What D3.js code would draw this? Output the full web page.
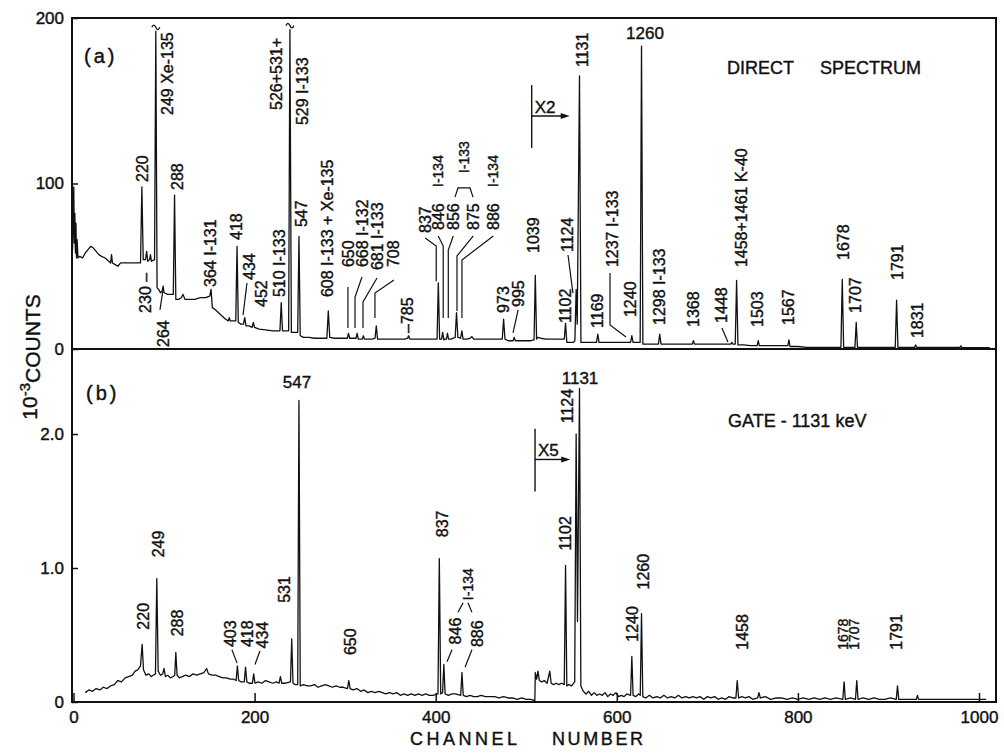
<!DOCTYPE html>
<html>
<head>
<meta charset="utf-8">
<script src="https://cdn.jsdelivr.net/npm/d3@7"></script>
<style>
  body { margin: 0; background: #fff; }
  svg { display: block; font-family: "Liberation Sans", Arial, sans-serif; }
  text { fill: #111; stroke: #111; stroke-width: 0.4px; }
</style>
</head>
<body>
<svg id="chart" width="1004" height="753"></svg>
<script>
var width = 1004,
    height = 753;

/* ---- Data ---- */

// x axis ticks (channel number)
var xTicks = [0, 200, 400, 600, 800, 1000];
var yTicksA = [0, 100, 200];
var yTicksB = [0, 1, 2];

// (a) direct spectrum: background trace [channel, 10^-3 counts]
var backgroundA = [
  [-1,60],[0.3,98],[0.9,64],[1.5,82],[2.1,58],[2.7,76],[3.3,55],[4,66],[5,55],[7,56],[10,55],[13,58],
  [16,60],[19,62],[22,61],[25,59],[28,57],[31,56],[35,55],[39,53],[41,52],[42,57],[43,52],[46,51],
  [49,50],[52,52],[58,52],[64,52],[70,52],[74,52],[77,54],[79.5,54],[82,53],[84,54],[85,57],[86,53],
  [89.5,54],[92.3,37],[94,36],[96,34],[98,35],[100,34],[104,33],[108,33],[110.2,33],[113,30],[116,30],
  [119,31],[121,33],[123,30],[128,30],[134,30],[140,31],[146,31],[150.5,32],[153.3,25],[156,24],
  [160,22],[164,20],[168,18],[171,17],[172,19],[173,17],[176,17],[179.2,17],[182,16],[185,15],
  [187.7,15],[190.5,14],[194,14],[197.2,13],[200,13],[205,12],[212,11.5],[220,11],[228,11],[230.8,11],
  [234,11],[237.6,11],[240.6,10],[244,10],[247.6,10],[250.4,8],[254,7],[260,7],[266,6.5],[272,6.5],
  [279.8,6.5],[283,7],[288,6.5],[294,6.5],[300,6.5],[302.4,6.5],[305,6.5],[309,6.5],[312,6.5],
  [314.5,6],[317,6],[319,6],[321.3,6],[326,6],[330,6],[333,6.5],[335.8,6],[342,6],[350,6],[358,6],
  [366,6],[369,6.5],[371.5,6],[378,6],[386,6],[394,6],[401.5,6],[404.3,6],[406.5,6],[409,5.5],
  [410.5,6],[411.8,6],[414.2,6],[417,6],[421.5,7],[424.5,7],[427.5,6.5],[430.2,6],[434,6],[438,6.5],
  [440,7.5],[442,6],[450,6],[460,6],[468,6],[473.5,6],[476.5,6],[480,5],[485.5,5],[488,5],[494,5],
  [500,5],[505,5],[508.6,5.5],[511.4,6],[513,7],[516,6.5],[522,6],[530,6],[537,6],[542,6],[544.8,4],
  [548,4],[552,4],[553.7,5],[556.3,15],[560.4,4],[565,4],[572,4],[577.6,4],[580.4,4],[588,4],[596,4],
  [604,4],[610,4],[613,4],[615.2,4],[618,4],[622,4],[625.8,4],[628.8,3],[634,3],[640,3],[646,3],
  [648.8,3],[656,3],[664,3],[672,3],[680,3],[683.4,3],[685.8,3],[694,3],[702,3],[710,3],[718,3],
  [726,3],[728,3],[730.8,3],[733.8,2.5],[740,2.5],[748,2],[755,2],[757.4,2],[766,2],[774,2],[782,2],
  [789,2],[791.3,1.5],[800,1.5],[810,1],[820,1],[830,1],[840,1],[847.5,1],[850.5,1],[856,1],[863,1],
  [865.8,1],[875,1],[885,1],[895,1],[907.5,1],[910.5,1],[920,1],[929,1],[931,1],[945,1],[960,1],
  [970,1],[979,1],[981,0.8],[995,0.8],[1012,0.8]
];

// (a) peak tips [channel, 10^-3 counts]
var peaksA = [
  [75.5,98],[80.8,59],[90.9,192],[99,38],[111.6,93],[151.9,36],[180.6,62],[189.1,19],[198.6,16],
  [229.4,28],[239,193],[249,68],[281.4,23],[303.7,9.5],[313.2,9.5],[320.1,8],[334.4,14],[370,8],
  [402.9,40],[407.7,10],[413,9.5],[423,22],[428.9,11],[475,18],[486.7,7],[510,44.5],[543.4,15.5],
  [555.1,36],[558.8,165],[579,9],[616.6,8],[627.3,183],[647.4,9],[684.6,5],[727,4],[732.3,41.5],
  [756.2,5],[790.1,5.5],[849,42],[864.4,16],[909,29.5],[930,2.5],[980,2]
];

// (b) gate 1131 keV: background trace [channel, 10^-3 counts]
var backgroundB = [
  [13,0.07],[17,0.09],[21,0.08],[25,0.1],[29,0.09],[33,0.11],[37,0.1],[41,0.12],[45,0.13],[49,0.16],
  [53,0.15],[57,0.18],[61,0.19],[65,0.2],[68,0.23],[71,0.24],[74,0.27],[77.3,0.24],[80,0.2],[83,0.21],
  [86,0.19],[88,0.2],[90.5,0.21],[93.5,0.23],[96,0.2],[98.5,0.21],[101.5,0.19],[104,0.2],[107,0.18],
  [110,0.19],[111.8,0.2],[114.4,0.2],[117,0.18],[120,0.19],[124,0.2],[128,0.19],[132,0.21],[136,0.2],
  [140,0.21],[144,0.22],[149,0.21],[153,0.2],[157,0.2],[161,0.19],[165,0.18],[169,0.18],[173,0.17],
  [177,0.17],[179.6,0.16],[182.4,0.16],[185,0.15],[188.6,0.15],[191.4,0.15],[194,0.14],[197.6,0.14],
  [200.4,0.14],[204,0.15],[208,0.14],[212,0.16],[216,0.15],[220,0.14],[224,0.15],[227,0.14],[230,0.14],
  [234,0.14],[239.6,0.15],[242.4,0.14],[245,0.13],[247.6,0.13],[250.4,0.12],[254,0.13],[258,0.12],
  [262,0.12],[266,0.13],[270,0.11],[274,0.12],[278,0.13],[282,0.12],[286,0.11],[290,0.12],[294,0.11],
  [298,0.11],[302.5,0.1],[305.5,0.1],[309,0.09],[313,0.1],[317,0.08],[321,0.09],[325,0.07],[329,0.08],
  [333,0.07],[337,0.08],[341,0.07],[345,0.06],[349,0.07],[353,0.06],[357,0.07],[361,0.05],[365,0.06],
  [369,0.05],[373,0.06],[377,0.05],[381,0.06],[385,0.05],[389,0.06],[393,0.05],[397,0.05],[402.5,0.06],
  [405.5,0.06],[407.6,0.07],[410.4,0.06],[414,0.05],[418,0.06],[422,0.06],[427.6,0.05],[430.4,0.05],
  [434,0.04],[438,0.05],[442,0.04],[446,0.04],[450,0.05],[455,0.04],[460,0.04],[465,0.04],[470,0.03],
  [475,0.04],[480,0.03],[485,0.03],[490,0.02],[495,0.03],[500,0.02],[505,0.02],[509.5,0.01],[510,0.22],
  [511.5,0.17],[514.5,0.16],[517,0.15],[520,0.16],[523,0.14],[527.5,0.14],[530,0.13],[533,0.14],
  [536,0.13],[539,0.14],[542,0.13],[544.8,0.12],[547,0.13],[550,0.12],[553.5,0.15],[556.6,0.6],
  [560.3,0.12],[563,0.08],[566,0.06],[569,0.08],[572,0.05],[575,0.07],[578,0.05],[581,0.06],[584,0.05],
  [587,0.07],[590,0.04],[593,0.06],[596,0.05],[599,0.07],[602,0.04],[605,0.05],[608,0.04],[611,0.06],
  [615.2,0.05],[618,0.05],[621,0.04],[624,0.06],[625.9,0.05],[628.7,0.04],[632,0.03],[636,0.05],
  [640,0.03],[644,0.04],[648,0.03],[652,0.05],[656,0.03],[660,0.04],[664,0.03],[668,0.05],[672,0.03],
  [676,0.04],[680,0.03],[684,0.04],[688,0.03],[692,0.04],[696,0.02],[700,0.04],[704,0.03],[708,0.04],
  [712,0.02],[716,0.03],[720,0.02],[724,0.04],[728,0.03],[731.5,0.03],[734.5,0.03],[738,0.04],[742,0.03],
  [746,0.04],[750,0.02],[755.5,0.03],[758.5,0.03],[764,0.04],[770,0.02],[776,0.03],[782,0.03],[788,0.02],
  [794,0.03],[800,0.02],[806,0.03],[812,0.02],[818,0.03],[824,0.02],[830,0.03],[836,0.02],[842,0.03],
  [849.6,0.02],[852.4,0.02],[858,0.03],[863.6,0.02],[866.4,0.02],[872,0.03],[878,0.02],[884,0.03],
  [890,0.02],[896,0.02],[902,0.03],[908.6,0.02],[911.4,0.02],[918,0.02],[924,0.02],[930.8,0.02],
  [933.2,0.02],[940,0.02],[950,0.02],[960,0.02],[970,0.02],[980,0.02],[990,0.02],[1000,0.02],[1008,0.02]
];

// (b) peak tips [channel, 10^-3 counts]
var peaksB = [
  [75.8,0.43],[92,0.92],[100,0.25],[113,0.37],[147,0.25],[181,0.27],[190,0.26],[199,0.21],[228.5,0.19],
  [241,0.47],[249,2.25],[304,0.16],[404,1.07],[409,0.28],[429,0.22],[513,0.23],[526,0.23],[543.4,1.02],
  [555.1,2.0],[558.8,2.34],[616.6,0.34],[627.3,0.66],[733,0.16],[757,0.07],[851,0.15],[865,0.16],
  [910,0.12],[932,0.05]
];

// peak labels, rotated: [text, channel, value at foot of label]
var labelsA = [
  ["220",75.6,100.9],["249 Xe-135",103.3,141.4],["288",114.3,96.1],["230 –",79,21.8],["264",98.8,1.2],
  ["364 I-131",150.7,37.5],["418",179.5,65.9],["434",193.8,41.7],["452",207,25.4],["510 I-133",227,31.4],
  ["526+531+",223.6,144.4],["529 I-133",252.3,135.3],["547",251.2,73.7],["608 I-133 + Xe-135",280,31.4],
  ["650",303.1,49.5],["668 I-132",318.6,49.5],["681 I-133",335.2,47.7],["708",352.8,49.5],
  ["–785",368.3,9.7],["837",388.4,70.1],["846",402.8,71.9],["856",419.4,71.9],["875",441.5,71.9],
  ["886",463.6,71.9],["973",474.3,21.8],["995",491,25.4],["1039",507.5,58],["1102",542.8,15.7],
  ["1124",545,58.6],["1131",561.6,170.4],["1169",578.1,12.7],["1237 I-133",594.7,49.5],["1240",614.6,19.3],
  ["1298 I-133",646.6,14.5],["1368",684,13.3],["1448",715,15.7],["1458+1461 K-40",737.1,49.5],
  ["1503",754.8,13.3],["1567",789,14.5],["1678",849.8,53.8],["1707",863,21.8],["1791",909.4,41.7],
  ["1831",931.5,6.6]
];
var smallLabelsA = [["I-134",402.8,97.9],["I-134",463.6,97.9],["I-133",431.2,106.3]];
var flatLabelsA = [["1260",631.1,190.9]];

var labelsB = [
  ["220",76.8,0.54],["249",93.3,1.08],["288",114.3,0.49],["403",172.8,0.41],["418",191.6,0.41],
  ["434",208.2,0.40],["531",232.5,0.74],["650",305.4,0.35],["837",406.9,1.23],["846",421.3,0.43],
  ["886",445.6,0.41],["1102",542.8,1.13],["1124",545,2.08],["1240",616.8,0.45],["1260",628.9,0.84],
  ["1458",738.3,0.39],["1791",908.3,0.39]
];
var smallLabelsB = [["I-134",435.7,0.76],["1678",849.6,0.39],["1707",862.3,0.39]];
var flatLabelsB = [["547",246.8,2.39],["1131",559.4,2.42]];

// leader lines [channel, value] ...
var leadersA = [
  [[95.5,23.6],[98.8,35.6]],
  [[191.6,39.9],[187.2,20.5]],
  [[303.1,37.5],[303.1,12.7]],
  [[318.6,43.5],[310.9,31.4],[310.9,12.7]],
  [[335.2,42.9],[319.7,28.4],[319.7,12.7]],
  [[353.9,41.7],[332.9,33.8],[332.9,18.7]],
  [[388.4,67.1],[400.6,62.2],[400.6,41]],
  [[402.8,68.3],[408.3,62.2],[408.3,18.7]],
  [[419.4,68.3],[413.9,59.8],[413.9,18.7]],
  [[441.5,68.3],[423.5,56.2],[423.5,23]],
  [[463.6,68.3],[429,53.8],[429,18.7]],
  [[421.3,91.8],[424.6,97.3],[437.9,97.3],[441.2,91.8]],
  [[485.4,9.7],[491,23.6]],
  [[546.1,56.8],[551.6,33.8]],
  [[592.5,45.9],[592.5,14.5],[610.2,7.3]],
  [[716.1,12.7],[722.7,4.2]]
];
var leadersB = [
  [[175,0.39],[180.6,0.29]],
  [[205.9,0.38],[200.4,0.28]],
  [[418,0.39],[412.5,0.3]],
  [[440,0.39],[432.4,0.26]],
  [[424.6,0.67],[430.2,0.74]],
  [[440,0.67],[435.6,0.74]]
];

// off-scale peaks in (a) get a break mark
var breaksA = [[90.9,195],[239,196]];

/* ---- Layout ---- */
var frame = {left: 72, right: 996, top: 18, mid: 349, bottom: 702};

var x = d3.scaleLinear().domain([0, 1000]).range([73.5, 979]);
var yA = d3.scaleLinear().domain([0, 200]).range([frame.mid, frame.top]);
var yB = d3.scaleLinear().domain([0, 2]).range([frame.bottom, 434]);

var svg = d3.select("#chart");

function trace(background, peaks) {
	return background.concat(peaks).sort(function(a, b) { return a[0] - b[0]; });
}

function drawSpectrum(points, y) {
	var line = d3.line()
		.x(function(d) { return x(d[0]); })
		.y(function(d) { return y(d[1]); });
	svg.append("path")
		.datum(points)
		.attr("d", line)
		.attr("fill", "none")
		.attr("stroke", "#111")
		.attr("stroke-width", 1.3)
		.attr("stroke-linejoin", "round");
}

function drawRotated(list, y, size) {
	svg.append("g").selectAll("text")
		.data(list)
		.enter()
		.append("text")
		.attr("transform", function(d) { return "translate(" + x(d[1]) + "," + y(d[2]) + ") rotate(-90)"; })
		.attr("dy", "0.36em")
		.style("font-size", size + "px")
		.text(function(d) { return d[0]; });
}

function drawFlat(list, y, size) {
	svg.append("g").selectAll("text")
		.data(list)
		.enter()
		.append("text")
		.attr("x", function(d) { return x(d[1]); })
		.attr("y", function(d) { return y(d[2]); })
		.attr("text-anchor", "middle")
		.attr("dy", "0.36em")
		.style("font-size", size + "px")
		.text(function(d) { return d[0]; });
}

function drawLeaders(list, y) {
	var line = d3.line()
		.x(function(d) { return x(d[0]); })
		.y(function(d) { return y(d[1]); });
	svg.append("g").selectAll("path")
		.data(list)
		.enter()
		.append("path")
		.attr("d", line)
		.attr("fill", "none")
		.attr("stroke", "#111")
		.attr("stroke-width", 1.2);
}

// scale-change marker: vertical bar, label and arrow
function drawMarker(ch, y, lo, hi, at, to, label) {
	var px = x(ch), py = y(at);
	svg.append("line")
		.attr("x1", px).attr("x2", px)
		.attr("y1", y(lo)).attr("y2", y(hi))
		.attr("stroke", "#111").attr("stroke-width", 1.4);
	svg.append("line")
		.attr("x1", px).attr("x2", x(to) - 4)
		.attr("y1", py).attr("y2", py)
		.attr("stroke", "#111").attr("stroke-width", 1.4);
	svg.append("path")
		.attr("d", "M" + x(to) + "," + py + " l-9,-3 l0,6 z")
		.attr("fill", "#111");
	svg.append("text")
		.attr("x", px + 3)
		.attr("y", py - 3)
		.style("font-size", "17px")
		.text(label);
}

/* ---- Frame and axes ---- */
svg.append("rect")
	.attr("x", frame.left).attr("y", frame.top)
	.attr("width", frame.right - frame.left)
	.attr("height", frame.bottom - frame.top)
	.attr("fill", "none")
	.attr("stroke", "#111")
	.attr("stroke-width", 2);

svg.append("line")
	.attr("x1", frame.left).attr("x2", frame.right)
	.attr("y1", frame.mid).attr("y2", frame.mid)
	.attr("stroke", "#111")
	.attr("stroke-width", 2);

var xAxis = svg.append("g")
	.attr("transform", "translate(0," + frame.bottom + ")")
	.call(d3.axisBottom(x).tickValues(xTicks).tickSize(-9).tickPadding(9).tickFormat(d3.format("d")));

var yAxisA = svg.append("g")
	.attr("transform", "translate(" + frame.left + ",0)")
	.call(d3.axisLeft(yA).tickValues(yTicksA).tickSize(-6).tickPadding(8));

var yAxisB = svg.append("g")
	.attr("transform", "translate(" + frame.left + ",0)")
	.call(d3.axisLeft(yB).tickValues(yTicksB).tickSize(-6).tickPadding(8)
		.tickFormat(function(d) { return d === 0 ? "0" : d.toFixed(1); }));

[xAxis, yAxisA, yAxisB].forEach(function(axis) {
	axis.select(".domain").remove();
	axis.selectAll("line").attr("stroke", "#111").attr("stroke-width", 1.5);
	axis.selectAll("text")
		.attr("font-family", null)
		.style("font-size", "17px")
		.style("fill", "#111");
});

// axis titles
svg.append("text")
	.attr("x", 410).attr("y", 745)
	.attr("textLength", 107).attr("lengthAdjust", "spacing")
	.style("font-size", "18px")
	.text("CHANNEL");
svg.append("text")
	.attr("x", 552).attr("y", 745)
	.attr("textLength", 91).attr("lengthAdjust", "spacing")
	.style("font-size", "18px")
	.text("NUMBER");

var yTitle = svg.append("text")
	.attr("transform", "translate(37,357) rotate(-90)")
	.attr("text-anchor", "middle")
	.style("font-size", "21px");
yTitle.append("tspan").text("10");
yTitle.append("tspan").attr("dy", "-0.5em").style("font-size", "15px").text("-3");
yTitle.append("tspan").attr("dy", "0.5em").text("COUNTS");

/* ---- Spectra ---- */
drawSpectrum(trace(backgroundA, peaksA), yA);
drawSpectrum(trace(backgroundB, peaksB), yB);

svg.append("g").selectAll("path")
	.data(breaksA)
	.enter()
	.append("path")
	.attr("d", function(d) {
		var px = x(d[0]), py = yA(d[1]);
		return "M" + (px - 4) + "," + (py + 1) + " c1.3,-3 2.7,-3 4,0 s2.7,3 4,0";
	})
	.attr("fill", "none")
	.attr("stroke", "#111")
	.attr("stroke-width", 1.3);

/* ---- Annotations ---- */
drawRotated(labelsA, yA, 16);
drawRotated(smallLabelsA, yA, 14);
drawFlat(flatLabelsA, yA, 17);
drawLeaders(leadersA, yA);

drawRotated(labelsB, yB, 16);
drawRotated(smallLabelsB, yB, 14);
drawFlat(flatLabelsB, yB, 17);
drawLeaders(leadersB, yB);

drawMarker(506, yA, 121.5, 159.5, 140.8, 548, "X2");
drawMarker(509.7, yB, 1.57, 2.04, 1.81, 548.6, "X5");

svg.append("text").attr("x", 84).attr("y", yA(177)).attr("dy", "0.36em")
	.style("font-size", "20px").style("letter-spacing", "3px").text("(a)");
svg.append("text").attr("x", 86).attr("y", yB(2.31)).attr("dy", "0.36em")
	.style("font-size", "20px").style("letter-spacing", "3px").text("(b)");

svg.append("text").attr("x", 727).attr("y", yA(169.8)).attr("dy", "0.36em")
	.style("font-size", "18px").text("DIRECT");
svg.append("text").attr("x", 820).attr("y", yA(169.8)).attr("dy", "0.36em")
	.style("font-size", "18px").text("SPECTRUM");

svg.append("text").attr("x", 728).attr("y", yB(2.10)).attr("dy", "0.36em")
	.style("font-size", "18px").text("GATE - 1131 keV");
</script>
</body>
</html>
